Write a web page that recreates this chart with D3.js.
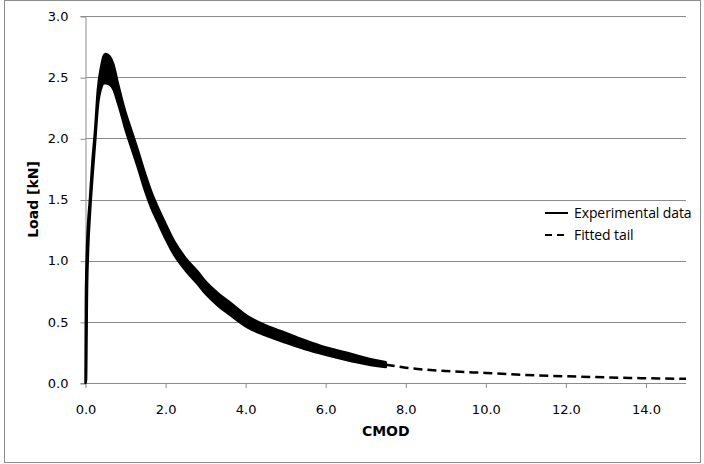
<!DOCTYPE html>
<html>
<head>
<meta charset="utf-8">
<script src="https://cdn.jsdelivr.net/npm/d3@7"></script>
<style>
  body { margin: 0; background: #fff; }
  svg { display: block; }
</style>
</head>
<body>
<div id="chart"></div>
<script>
/* data */
// experimental curve: noisy band, kept as upper and lower edge
const expCmod  = [0.00, 0.01, 0.04, 0.07, 0.11, 0.17, 0.24, 0.31, 0.40, 0.45, 0.50, 0.60, 0.70, 0.80, 0.90, 1.00, 1.14, 1.30, 1.50, 1.64, 1.80, 2.00, 2.22, 2.50, 2.80, 3.00, 3.32, 3.60, 4.05, 4.50, 5.00, 5.50, 6.00, 6.50, 7.00, 7.50];
const expUpper = [0.00, 0.68, 1.13, 1.33, 1.50, 1.80, 2.07, 2.40, 2.60, 2.67, 2.69, 2.67, 2.60, 2.46, 2.33, 2.21, 2.07, 1.91, 1.70, 1.565, 1.44, 1.30, 1.155, 1.02, 0.91, 0.83, 0.73, 0.66, 0.545, 0.47, 0.41, 0.345, 0.29, 0.25, 0.205, 0.17];
const expLower = [0.00, 0.00, 0.80, 1.13, 1.38, 1.67, 1.97, 2.27, 2.42, 2.45, 2.45, 2.44, 2.40, 2.30, 2.19, 2.07, 1.93, 1.77, 1.56, 1.435, 1.32, 1.18, 1.045, 0.92, 0.81, 0.73, 0.63, 0.56, 0.455, 0.39, 0.33, 0.275, 0.23, 0.19, 0.155, 0.13];
// fitted tail
const tailCmod = [7.50, 8.00, 9.00, 10.00, 11.00, 12.00, 13.00, 14.00, 15.00];
const tailLoad = [0.150, 0.125, 0.098, 0.082, 0.066, 0.055, 0.046, 0.039, 0.034];

const xTicks = [0, 2, 4, 6, 8, 10, 12, 14];
const yTicks = [0, 0.5, 1.0, 1.5, 2.0, 2.5, 3.0];
const legendNames = ["Experimental data", "Fitted tail"];

/* sizes */
const width = 704, height = 464;
const margin = {top: 16, right: 18, bottom: 81, left: 85.5};
const plotW = width - margin.left - margin.right;
const plotH = height - margin.top - margin.bottom;

const svg = d3.select("#chart").append("svg")
  .attr("width", width)
  .attr("height", height);

// chart area border
svg.append("rect")
  .attr("x", 4.5).attr("y", 0.5)
  .attr("width", 696).attr("height", 462)
  .attr("fill", "none")
  .attr("stroke", "#8c8c8c");

const g = svg.append("g")
  .attr("transform", "translate(" + margin.left + "," + margin.top + ")");

const x = d3.scaleLinear().domain([0, 15]).range([0, plotW]);
const y = d3.scaleLinear().domain([0, 3]).range([plotH, 0]);

/* gridlines */
g.append("g")
  .selectAll("line")
  .data(yTicks.filter(d => d > 0))
  .enter().append("line")
  .attr("x1", 0).attr("x2", plotW)
  .attr("y1", d => Math.round(y(d)) + 0.5)
  .attr("y2", d => Math.round(y(d)) + 0.5)
  .attr("stroke", "#8c8c8c");

/* axes */
const yAxis = d3.axisLeft(y)
  .tickValues(yTicks)
  .tickFormat(d3.format(".1f"))
  .tickSize(5)
  .tickPadding(12);
const xAxis = d3.axisBottom(x)
  .tickValues(xTicks)
  .tickFormat(d3.format(".1f"))
  .tickSize(5)
  .tickPadding(17);

const ya = g.append("g").call(yAxis);
const xa = g.append("g").attr("transform", "translate(0," + plotH + ")").call(xAxis);
[ya, xa].forEach(a => {
  a.select(".domain").attr("stroke", "#8c8c8c");
  a.selectAll(".tick line").attr("stroke", "#8c8c8c");
  a.selectAll("text")
    .attr("fill", "#000")
    .style("font", "13px 'DejaVu Sans', sans-serif");
});
ya.selectAll(".tick line").attr("transform", "translate(0,0.5)");
xa.select(".domain").attr("d", "M0,0.5H" + plotW);

/* experimental band */
const expData = expCmod.map((c, i) => ({c: c, hi: expUpper[i], lo: expLower[i]}));
const band = d3.area()
  .x(d => x(d.c))
  .y0(d => y(d.lo))
  .y1(d => y(d.hi))
  .curve(d3.curveMonotoneX);
g.append("path")
  .datum(expData)
  .attr("d", band)
  .attr("fill", "#000")
  .attr("stroke", "#000")
  .attr("stroke-width", 2.5)
  .attr("stroke-linejoin", "round");

/* fitted tail */
const tailData = tailCmod.map((c, i) => ({c: c, v: tailLoad[i]}));
g.append("path")
  .datum(tailData)
  .attr("d", d3.line().x(d => x(d.c)).y(d => y(d.v)).curve(d3.curveMonotoneX))
  .attr("fill", "none")
  .attr("stroke", "#000")
  .attr("stroke-width", 2.5)
  .attr("stroke-dasharray", "9,5");

/* axis titles */
svg.append("text")
  .attr("transform", "translate(38," + (margin.top + plotH / 2) + ") rotate(-90)")
  .attr("text-anchor", "middle")
  .style("font", "bold 14px 'DejaVu Sans', sans-serif")
  .text("Load [kN]");
svg.append("text")
  .attr("x", margin.left + plotW / 2)
  .attr("y", 436)
  .attr("text-anchor", "middle")
  .style("font", "bold 14px 'DejaVu Sans', sans-serif")
  .text("CMOD");

/* legend */
const leg = svg.append("g").attr("transform", "translate(545,213)");
legendNames.forEach((name, i) => {
  leg.append("line")
    .attr("x1", 0).attr("x2", 23)
    .attr("y1", i * 22).attr("y2", i * 22)
    .attr("stroke", "#000")
    .attr("stroke-width", 2)
    .attr("stroke-dasharray", i === 1 ? "7,5" : null);
  leg.append("text")
    .attr("x", 29).attr("y", i * 22 + 5)
    .style("font", "14px 'Open Sans', sans-serif")
    .attr("letter-spacing", "-0.1")
    .text(name);
});
</script>
</body>
</html>
